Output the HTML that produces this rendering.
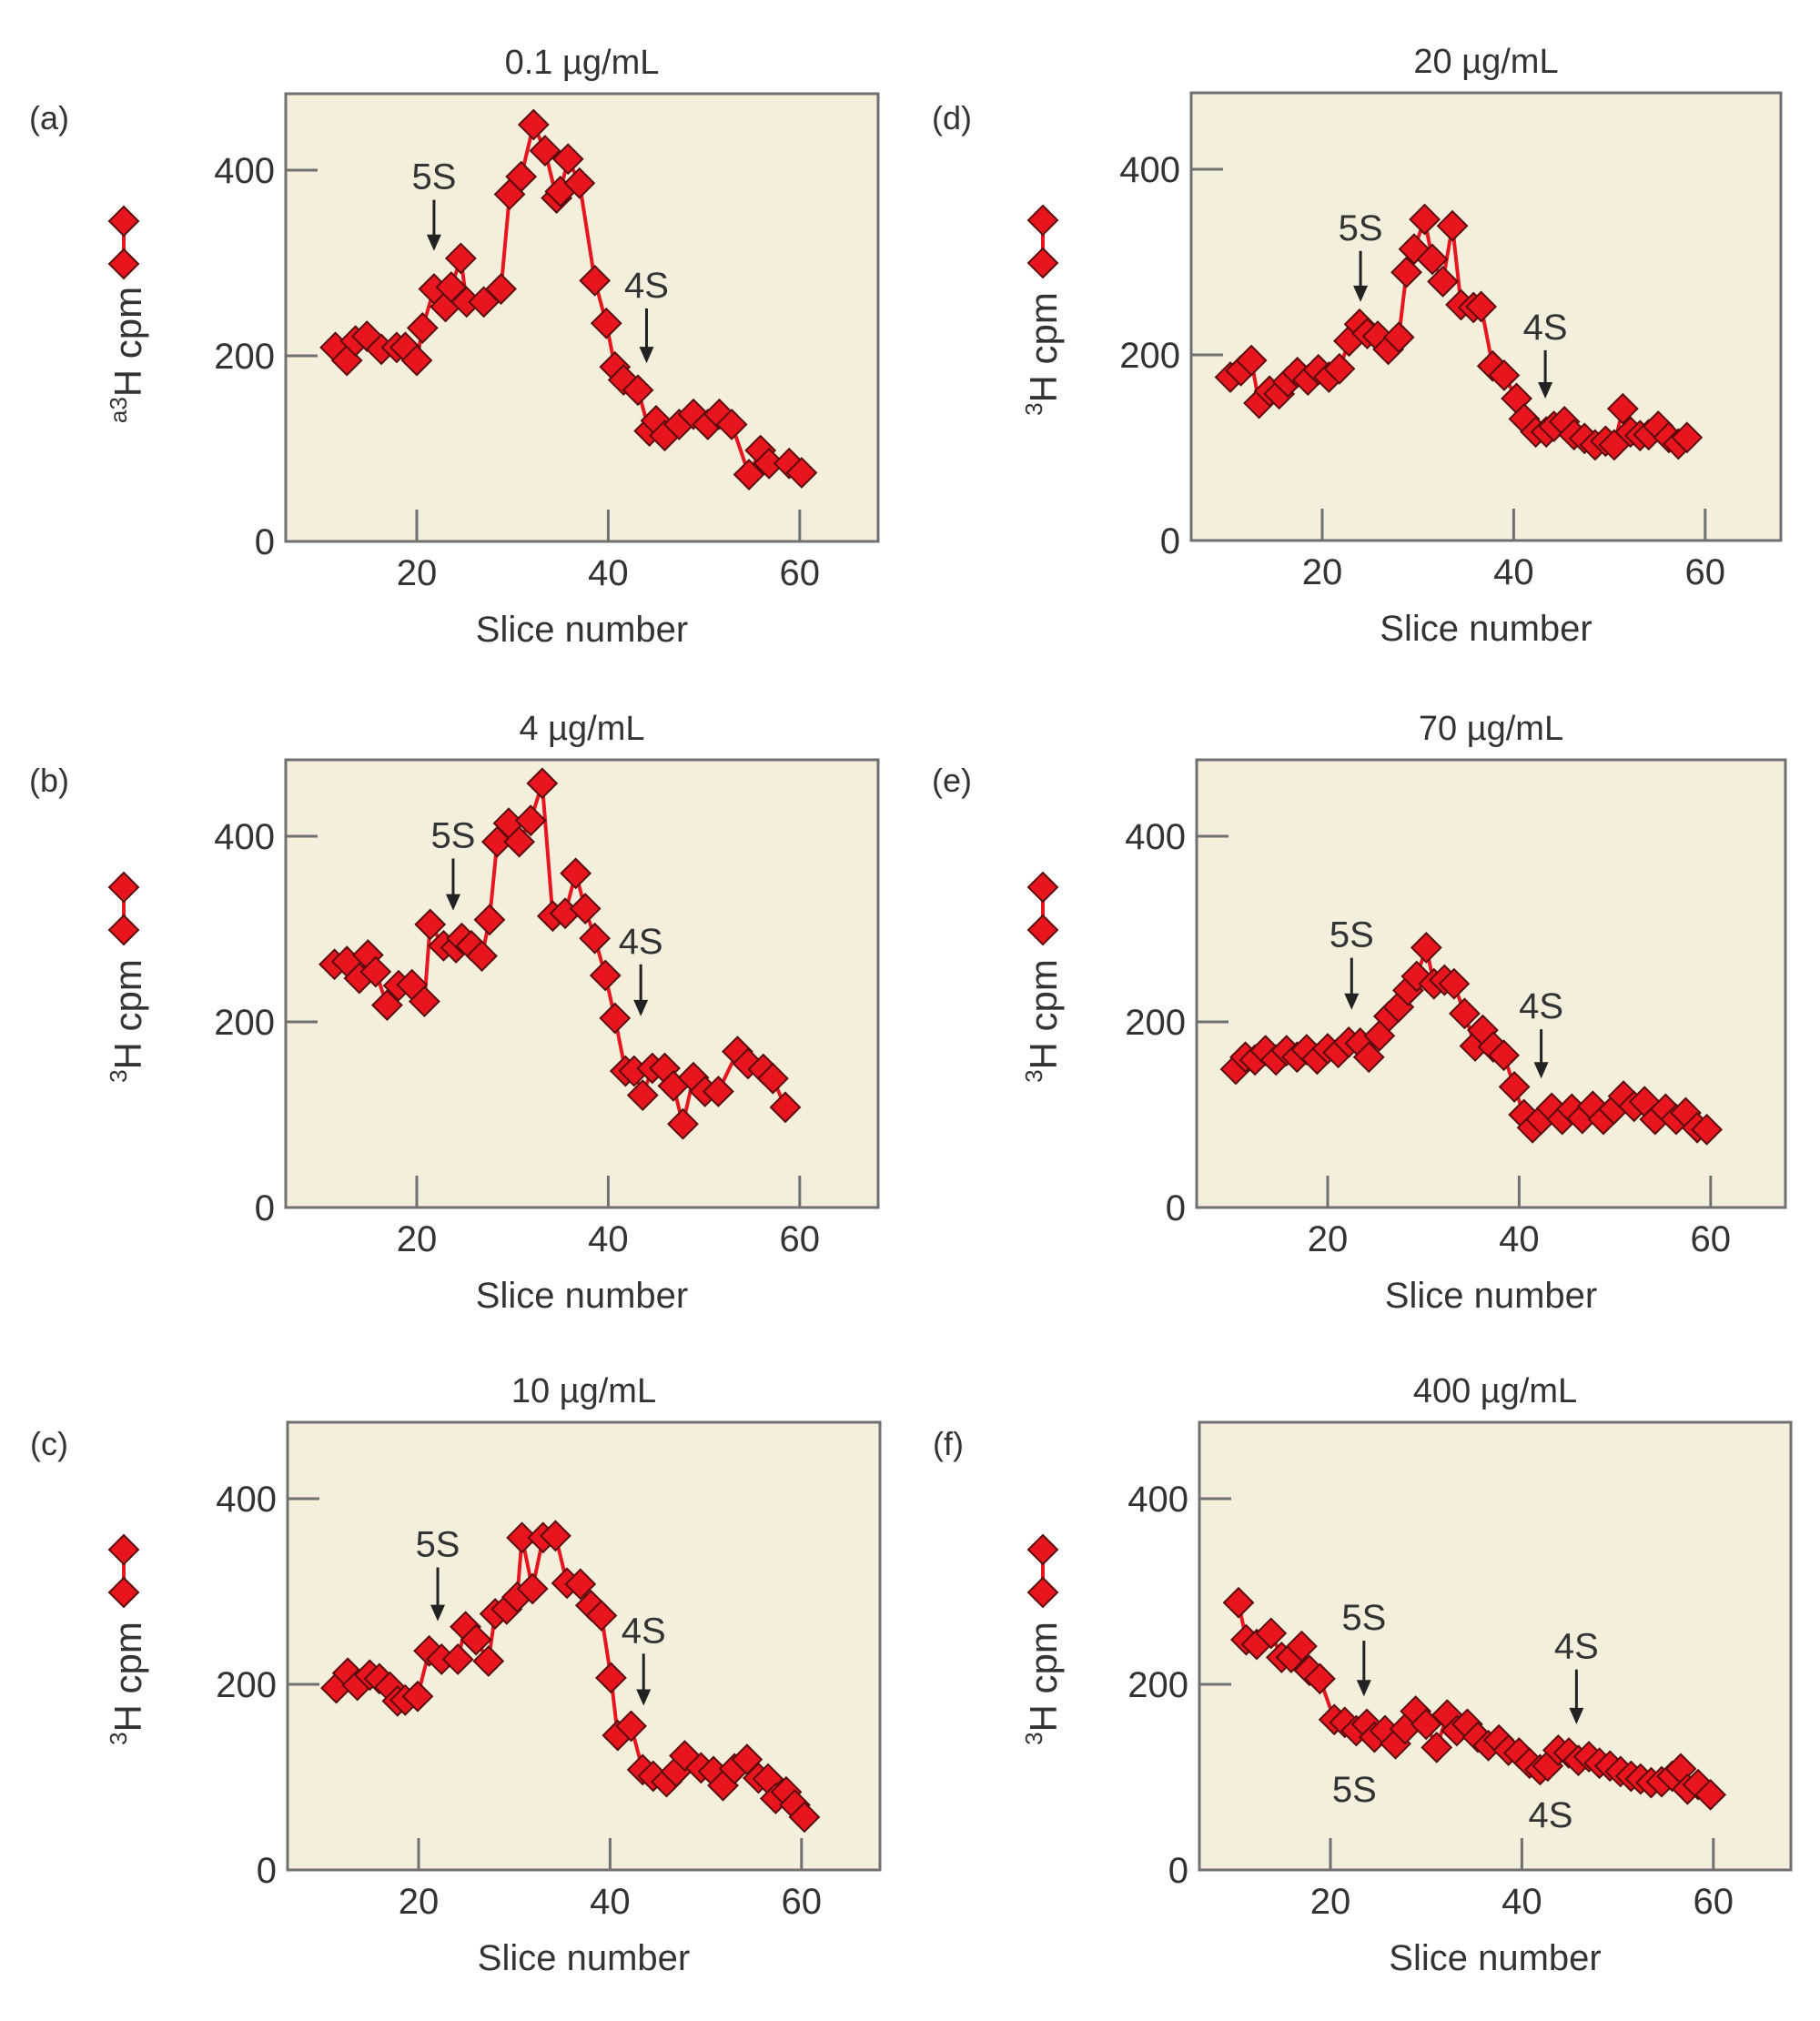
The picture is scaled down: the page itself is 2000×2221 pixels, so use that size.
<!DOCTYPE html>
<html><head><meta charset="utf-8"><style>
html,body{margin:0;padding:0;background:#fff;}
svg{display:block;font-family:"Liberation Sans",sans-serif;}
</style></head><body>
<svg id="fig" width="2000" height="2221" viewBox="0 0 2000 2221" xmlns="http://www.w3.org/2000/svg"></svg>
<script>
const xsA=[11.5,12.7,13.6,14.8,16.3,17.9,18.8,20,20.6,21.8,23,23.6,24.6,25.2,27,28.8,29.7,30.9,32.2,33.4,34.6,35,35.8,37,38.6,39.8,40.7,41.6,43.1,44.3,45,45.9,47.4,48.9,50.4,51.6,52.9,54.7,55.9,56.8,58.9,60.2];
const ysA=[209,195,216,221,207,209,209,195,230,272,253,274,305,258,258,272,374,393,449,421,370,377,412,386,281,235,188,174,163,119,130,114,126,137,126,137,126,72,98,84,84,74];
const xsB=[11.4,12.7,14,14.9,15.7,16.9,18.1,19.5,20.8,21.4,22.8,24.1,24.7,25.7,26.8,27.6,28.4,29.6,30.7,31.9,33.1,34.2,35.5,36.6,37.6,38.6,39.7,40.7,41.8,42.7,43.6,44.6,45.9,46.8,47.8,48.9,50.1,51.5,53.5,54.6,56.2,57.2,58.5];
const ysB=[262,265,247,272,254,218,239,240,222,305,282,280,290,282,271,310,394,414,394,417,457,314,317,360,322,290,250,204,147,147,121,150,150,131,90,140,125,125,168,155,149,139,108];
const xsC=[11.4,12.6,13.6,14.9,15.9,17,17.8,18.6,19.9,21.1,22.4,24.1,24.9,26,27.3,28,29.2,30.3,30.8,31.9,33,34.3,35.5,36.9,38,39.1,40.1,40.8,42.2,43.4,44.5,45.9,46.9,47.8,49.5,50.8,51.8,53,54.3,55.5,56.5,57.3,58.4,59.3,60.3];
const ysC=[196,212,199,210,206,197,182,183,187,236,227,227,262,248,225,276,281,294,358,303,358,360,309,308,285,274,207,145,155,108,101,95,106,123,110,106,91,109,119,99,98,77,84,70,57];
const xsD=[10.4,11.5,12.6,13.4,14.5,15.5,16.4,17.4,18.5,19.6,20.7,21.8,22.8,23.9,24.7,25.8,26.9,28,28.8,29.6,30.7,31.5,32.6,33.6,34.5,35.8,36.6,37.8,39,40.3,41.1,42.3,43.4,44.2,45.3,46.3,47.4,48.5,49.6,50.5,51.4,52.2,53.2,54.1,55.1,56.2,57.2,58.1];
const ysD=[176,183,194,148,161,158,171,181,173,184,176,185,215,233,223,220,206,219,289,314,346,303,279,339,254,251,252,188,178,153,131,117,117,123,128,114,110,103,107,103,142,117,113,114,123,111,104,111];
const xsE=[10.4,11.4,12.4,13.5,14.6,15.7,16.8,17.8,18.9,20,21.1,22.2,23.4,24.3,25.4,26.4,27.4,28.4,29.3,30.3,31.1,32.2,33.2,34.3,35.4,36.2,37.3,38.4,39.5,40.5,41.4,42.3,43.4,44.5,45.5,46.6,47.7,48.8,49.9,50.9,52,53.1,54.2,55.3,56.4,57.4,58.6,59.6];
const ysE=[149,162,159,169,159,169,162,170,160,171,167,178,177,162,185,206,216,234,249,280,241,245,241,209,174,191,173,164,130,100,86,95,107,95,106,96,109,95,106,120,109,114,95,106,95,102,86,84];
const xsF=[10.4,11.2,12.3,13.8,14.9,15.9,17,17.8,18.9,20.4,21.5,22.7,23.8,24.6,25.7,26.8,27.8,28.9,30,31.1,32.2,33.2,34.3,35.4,36.5,37.6,38.6,39.7,40.8,41.9,42.7,43.8,44.9,45.9,47,48.1,49.2,50.3,51.4,52.4,53.5,54.6,55.7,56.6,57.3,58.4,59.7];
const ysF=[288,248,243,255,229,229,241,215,206,162,159,150,157,143,150,136,152,171,157,132,167,150,157,143,134,140,129,126,115,108,112,129,126,118,122,115,112,106,101,98,94,95,101,109,87,92,81];
const xTicks=[20,40,60];
const yTicks=[0,200,400];
const titles=["0.1 \u00b5g/mL","4 \u00b5g/mL","10 \u00b5g/mL","20 \u00b5g/mL","70 \u00b5g/mL","400 \u00b5g/mL"];
const letters=["(a)","(b)","(c)","(d)","(e)","(f)"];
const ylabels=["a3","3","3","3","3","3"];
const anno5=[21.8,23.8,22,24,22.5,23.5];
const anno4=[44,43.4,43.5,43.3,42.3,45.7];
const anno5y=[[368,313],[376,320],[326,268],[312,257],[269,213],[247,187]];
const anno4y=[[251,192],[262,206],[233,177],[205,153],[192,139],[216,157]];

const NS="http://www.w3.org/2000/svg";
const svg=document.getElementById('fig');
function mk(tag,attrs,parent){const e=document.createElementNS(NS,tag);for(const k in attrs)e.setAttribute(k,attrs[k]);(parent||svg).appendChild(e);return e;}

const panels=[
 {L:314,R:965,Y0:595,xs:xsA,ys:ysA,lx:54,ly:130,yl:140,ic:136},
 {L:314,R:965,Y0:1327,xs:xsB,ys:ysB,lx:54,ly:858,yl:140,ic:136},
 {L:316,R:967,Y0:2055,xs:xsC,ys:ysC,lx:54,ly:1587,yl:140,ic:136},
 {L:1309,R:1957,Y0:594,xs:xsD,ys:ysD,lx:1046,ly:130,yl:1146,ic:1146},
 {L:1315,R:1962,Y0:1327,xs:xsE,ys:ysE,lx:1046,ly:858,yl:1146,ic:1146},
 {L:1318,R:1968,Y0:2055,xs:xsF,ys:ysF,lx:1042,ly:1587,yl:1146,ic:1146}
];
const TXT="#333";
function diamond(g,cx,cy,r){
 return mk('polygon',{points:`${cx},${cy-r} ${cx+r},${cy} ${cx},${cy+r} ${cx-r},${cy}`,fill:'#e8141e',stroke:'#5a0c0c','stroke-width':2},g);
}
panels.forEach((p,i)=>{
 const g=mk('g',{});
 
 
 const X=v=>p.L+144+(v-20)*10.52;
 const Y=v=>p.Y0-v*1.02;
 const top=p.Y0-492;
 const fr=mk('rect',{x:p.L,y:top,width:p.R-p.L,height:p.Y0-top,fill:'#f3efdc',stroke:'#707070','stroke-width':3},g);
 
 
 yTicks.forEach(t=>{
  if(t>0){const tk=mk('line',{x1:p.L,x2:p.L+35,y1:Y(t),y2:Y(t),stroke:'#707070','stroke-width':3},g);
  }
  const tl=mk('text',{x:p.L-12,y:Y(t)+14,'text-anchor':'end','font-size':40,fill:TXT},g);
  tl.textContent=t;
  
  
 });
 xTicks.forEach(t=>{
  const tk=mk('line',{x1:X(t),x2:X(t),y1:p.Y0,y2:p.Y0-35,stroke:'#707070','stroke-width':3},g);
  
  const tl=mk('text',{x:X(t),y:p.Y0+48,'text-anchor':'middle','font-size':40,fill:TXT},g);
  tl.textContent=t;
  
  
 });
 const xt=mk('text',{x:(p.L+p.R)/2,y:p.Y0+110,'text-anchor':'middle','font-size':40,fill:TXT},g);
 xt.textContent='Slice number';
 
 
 const tt=mk('text',{x:(p.L+p.R)/2,y:top-22,'text-anchor':'middle','font-size':38,fill:TXT},g);
 tt.textContent=titles[i];
 
 
 const lt=mk('text',{x:p.lx,y:p.ly+12,'text-anchor':'middle','font-size':36,fill:TXT},g);
 lt.textContent=letters[i];
 
 
 const cy=p.Y0-205;
 const yt=mk('text',{x:0,y:0,'text-anchor':'middle','font-size':42,fill:TXT,transform:`translate(${p.yl+15},${cy}) rotate(-90)`},g);
 const s1=mk('tspan',{'font-size':26,dy:-16},yt);s1.textContent=ylabels[i];
 const s2=mk('tspan',{dy:16},yt);s2.textContent='H cpm';
 
 
 const lg=mk('g',{},g);
 
 
 mk('line',{x1:p.ic,x2:p.ic,y1:cy-147,y2:cy-100,stroke:'#e8141e','stroke-width':4},lg);
 diamond(lg,p.ic,cy-147,16);diamond(lg,p.ic,cy-100,16);
 const pts=p.xs.map((x,k)=>X(x)+','+Y(p.ys[k])).join(' ');
 const ln=mk('polyline',{points:pts,fill:'none',stroke:'#e8141e','stroke-width':4},g);
 
 
 p.xs.forEach((x,k)=>{
  const d=diamond(g,X(x),Y(p.ys[k]),16);
  
  
 });
 [[anno5[i],anno5y[i],'5S'],[anno4[i],anno4y[i],'4S']].forEach(a=>{
  const ax=X(a[0]);
  const ag=mk('g',{},g);
  
  
  const yTop=Y(a[1][0]), yBot=Y(a[1][1]);
  const lab=mk('text',{x:ax,y:yTop-12,'text-anchor':'middle','font-size':40,fill:TXT},ag);
  lab.textContent=a[2];
  mk('line',{x1:ax,x2:ax,y1:yTop,y2:yBot-14,stroke:'#222','stroke-width':3},ag);
  mk('polygon',{points:`${ax-8},${yBot-18} ${ax+8},${yBot-18} ${ax},${yBot}`,fill:'#222'},ag);
 });
 if(i===5){
  [[22.5,'5S',-75],[43,'4S',-47]].forEach(a=>{
   const t=mk('text',{x:X(a[0]),y:p.Y0+a[2],'text-anchor':'middle','font-size':40,fill:TXT},g);
   t.textContent=a[1];
   
   
  });
 }
});
</script>
</body></html>
